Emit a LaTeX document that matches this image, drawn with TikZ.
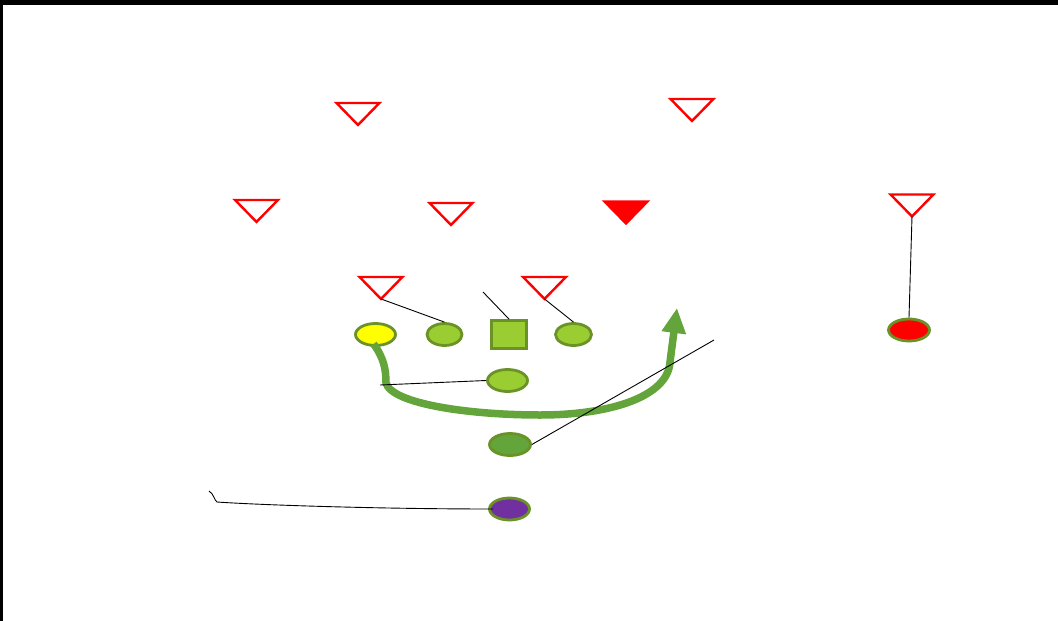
\documentclass[tikz,border=0pt]{standalone}
\usepackage{tikz}
\usetikzlibrary{shapes.geometric, arrows.meta, calc}
\definecolor{defred}{RGB}{255, 0, 0}
\definecolor{offgreen}{RGB}{154, 205, 50}
\definecolor{offedge}{RGB}{107, 146, 38}
\definecolor{routegreen}{RGB}{99, 165, 58}
\definecolor{qbpurple}{RGB}{112, 48, 160}
\definecolor{qbyellow}{RGB}{255, 255, 0}
\tikzset{
    defender/.style={draw=defred, line width=2.4pt, isosceles triangle, isosceles triangle stretches, shape border rotate=-90, minimum width=43pt, minimum height=22pt, inner sep=0pt, outer sep=0pt},
    blitzer/.style={defender, fill=defred},
    player/.style={draw=offedge, line width=2.8pt, ellipse, minimum width=38pt, minimum height=22pt, inner sep=0pt, fill=offgreen},
    snapper/.style={draw=offedge, line width=2.8pt, rectangle, minimum width=35pt, minimum height=28pt, inner sep=0pt, fill=offgreen},
    routeline/.style={line width=7.5pt, draw=routegreen, -{Triangle[width=23pt, length=25pt]}},
    blockline/.style={draw=black, line width=0.9pt},
}

\begin{document}
\begin{tikzpicture}[x=1pt, y=-1pt]
    \useasboundingbox (0,0) rectangle (1058,621);
    \fill[black] (0,0) rectangle (1058,5);
    \fill[black] (0,0) rectangle (3,621);

    % Defense
    \node[defender] (d1) at (358, 112) {};
    \node[defender] (d2) at (692, 108) {};
    \node[defender] (d3) at (256.5, 209) {};
    \node[defender] (d4) at (451, 212) {};
    \node[blitzer]  (d5) at (626, 210.5) {};
    \node[defender] (d6) at (912, 203.5) {};
    \node[defender] (d7) at (381, 286) {};
    \node[defender] (d8) at (544.5, 286) {};

    % Offense
    \node[player, fill=qbyellow, minimum width=40pt] (wr) at (375.5, 334.5) {};
    \node[player, minimum width=35pt] (lg) at (444.5, 334.5) {};
    \node[snapper] (ctr) at (509, 334.5) {};
    \node[player, minimum width=36pt] (rg) at (573.5, 334.5) {};
    \node[player, minimum width=40pt] (hb) at (507.5, 380.5) {};
    \node[player, fill=routegreen, minimum width=41pt] (fb) at (510, 444.5) {};
    \node[player, fill=qbpurple, minimum width=40pt] (qb) at (509.5, 509) {};
    \node[player, fill=defred, minimum width=41pt] (te) at (909, 330) {};

    % Route
    \draw[routeline] ($(wr.south)+(-2,-3)$) .. controls (384, 358) and (386, 370) .. (386, 383)
        .. controls (392, 404) and (470, 415) .. (540, 415)
        .. controls (612, 415) and (668, 396) .. (670, 362) -- (677, 308);

    % Blocks
    \coordinate (cfree) at (483, 292);
    \coordinate (hfree) at (380, 385);
    \coordinate (ffree) at (714, 340);
    \draw[blockline] (d7.apex) -- (lg.north);
    \draw[blockline] (cfree) -- (ctr.north);
    \draw[blockline] (d8.apex) -- (rg.north);
    \draw[blockline] (hfree) -- (hb.west);
    \draw[blockline] (fb.east) -- (ffree);
    \draw[blockline] (d6.apex) -- (te.north);
    \draw[blockline] ([xshift=5pt]qb.west) .. controls (380, 509) and (260, 505) .. (217, 502)
        .. controls (214, 500) and (214, 494) .. (209, 491);
\end{tikzpicture}
\end{document}
